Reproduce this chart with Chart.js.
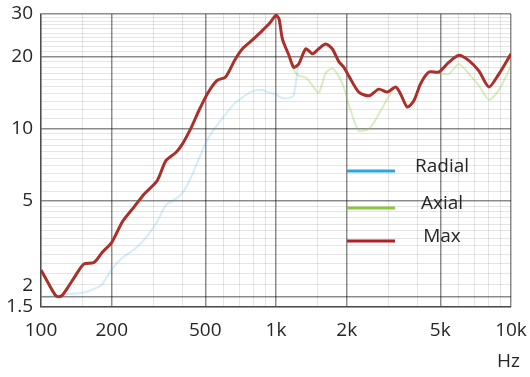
<!DOCTYPE html>
<html>
<head>
<meta charset="utf-8">
<script src="https://cdn.jsdelivr.net/npm/chart.js@4/dist/chart.umd.min.js"></script>
<style>
  html, body { margin: 0; padding: 0; background: #ffffff; }
  canvas { display: block; }
</style>
</head>
<body>
<canvas id="chart" width="530" height="377"></canvas>
<script>
// Frequency points (Hz)
const freqs = [100, 106, 116, 122, 130, 140, 152, 168, 182, 200, 222, 250, 275, 312, 340, 375, 400, 433, 470, 510,
  560, 610, 670, 720, 790, 875, 935, 1000, 1030, 1065, 1135, 1190, 1250, 1340, 1430, 1520, 1625, 1735, 1850, 1945,
  2045, 2250, 2490, 2740, 2975, 3230, 3390, 3620, 3865, 4125, 4475, 4935, 5445, 6000, 6620, 7300, 8055, 8885, 9800, 10000];

// Radial response
const radialLevel = [2.0, 2.0, 2.02, 2.03, 2.05, 2.06, 2.08, 2.15, 2.25, 2.6, 2.9, 3.15, 3.45, 4.1, 4.8, 5.1, 5.4, 6.2, 7.5, 9.0,
  10.3, 11.5, 12.8, 13.5, 14.3, 14.5, 14.1, 13.9, 13.6, 13.4, 13.4, 13.8, 18.6, 21.5, 20.5, 21.5, 22.5, 21.5, 19.0, 18.0,
  16.5, 14.2, 13.7, 14.6, 14.2, 14.9, 13.95, 12.3, 13.1, 15.4, 17.2, 17.2, 18.9, 20.2, 19.2, 17.4, 14.9, 16.9, 19.8, 20.5];

// Axial response
const axialLevel = [2.58, 2.33, 2.01, 2.01, 2.18, 2.44, 2.73, 2.77, 3.05, 3.36, 4.1, 4.75, 5.35, 6.07, 7.36, 7.96, 8.64, 9.97, 11.9, 13.95,
  15.85, 16.4, 19.4, 21.5, 23.3, 25.6, 27.3, 29.6, 28.6, 23.6, 20.2, 17.5, 16.6, 16.3, 15.1, 14.1, 17.0, 17.8, 16.5, 14.8,
  12.5, 9.8, 10.0, 11.5, 13.3, 14.9, 13.95, 12.3, 13.1, 15.4, 17.2, 17.0, 16.9, 18.6, 16.9, 15.1, 13.2, 14.5, 17.5, 18.5];

// Maximum of both
const maxLevel = [2.58, 2.33, 2.01, 2.01, 2.18, 2.44, 2.73, 2.77, 3.05, 3.36, 4.1, 4.75, 5.35, 6.07, 7.36, 7.96, 8.64, 9.97, 11.9, 13.95,
  15.85, 16.4, 19.4, 21.5, 23.3, 25.6, 27.3, 29.6, 28.6, 23.6, 20.2, 18.0, 18.6, 21.5, 20.5, 21.5, 22.5, 21.5, 19.0, 18.0,
  16.5, 14.2, 13.7, 14.6, 14.2, 14.9, 13.95, 12.3, 13.1, 15.4, 17.2, 17.2, 18.9, 20.2, 19.2, 17.4, 14.9, 16.9, 19.8, 20.5];

const seriesNames = ['Radial', 'Axial', 'Max'];

// Axis ticks
const xTickValues = [100, 200, 500, 1000, 2000, 5000, 10000];
const xTickLabels = ['100', '200', '500', '1k', '2k', '5k', '10k'];
const xMinorValues = [150, 300, 400, 600, 700, 800, 900, 1500, 3000, 4000, 6000, 7000, 8000, 9000];
const yTickValues = [2, 5, 10, 20, 30];
const yTickLabels = ['2', '5', '10', '20', '30'];
const yFloor = 1.81;
const yFloorLabel = '1.5';
const xUnit = 'Hz';

const yMinorValues = [];
for (let v = 2.25; v < 5; v += 0.25) yMinorValues.push(+v.toFixed(2));
for (let v = 5.5; v < 10; v += 0.5) yMinorValues.push(+v.toFixed(2));
for (let v = 11; v < 20; v += 1) yMinorValues.push(v);
for (let v = 21; v < 30; v += 1) yMinorValues.push(v);

const FONT = "'Open Sans', 'DejaVu Sans', sans-serif";
const MAJOR_GRID = 'rgba(0,0,0,0.45)';
const MINOR_GRID = 'rgba(0,0,0,0.1)';

const legendColors = ['#2ba6de', '#8cc63e', '#b11f24'];

const toPoints = arr => freqs.map((f, i) => ({ x: f, y: arr[i] }));

const isMajorX = v => xTickValues.includes(v);
const isMajorY = v => yTickValues.includes(v) || v === yFloor;

// Legend drawn inside the plot area, plus the unit label under the axis
const insideLegend = {
  id: 'insideLegend',
  afterDatasetsDraw(chart) {
    const { ctx, chartArea: a } = chart;
    ctx.save();
    const rows = [157, 194, 227];
    ctx.font = `19px ${FONT}`;
    ctx.textAlign = 'center';
    ctx.textBaseline = 'middle';
    seriesNames.forEach((name, i) => {
      const y = a.top + rows[i];
      ctx.strokeStyle = legendColors[i];
      ctx.lineWidth = 3;
      ctx.beginPath();
      ctx.moveTo(a.left + 306, y);
      ctx.lineTo(a.left + 354, y);
      ctx.stroke();
      ctx.fillStyle = '#262626';
      ctx.fillText(name, a.left + 401, y - 4);
    });
    ctx.textAlign = 'right';
    ctx.fillText(xUnit, a.right + 9, 362);
    ctx.restore();
  }
};

new Chart(document.getElementById('chart'), {
  type: 'line',
  data: {
    datasets: [
      {
        label: seriesNames[0],
        data: toPoints(radialLevel),
        borderColor: 'rgba(43,166,222,0.2)',
        borderWidth: 2,
        pointRadius: 0,
        tension: 0.25,
        order: 2
      },
      {
        label: seriesNames[1],
        data: toPoints(axialLevel),
        borderColor: 'rgba(140,198,62,0.32)',
        borderWidth: 2,
        pointRadius: 0,
        tension: 0.25,
        order: 1
      },
      {
        label: seriesNames[2],
        data: toPoints(maxLevel),
        borderColor: '#ac2f2a',
        borderWidth: 3,
        pointRadius: 0,
        tension: 0.25,
        order: 0
      }
    ]
  },
  options: {
    responsive: false,
    animation: false,
    devicePixelRatio: 1,
    layout: { padding: { top: 14, right: 19, left: 0, bottom: 0 } },
    plugins: {
      legend: { display: false },
      tooltip: { enabled: false }
    },
    scales: {
      x: {
        type: 'logarithmic',
        min: 100,
        max: 10000,
        afterBuildTicks: scale => {
          scale.ticks = [...xTickValues, ...xMinorValues].sort((a, b) => a - b).map(v => ({ value: v }));
        },
        afterFit: scale => {
          scale.height = 70;
          scale.paddingLeft = 0;
          scale.paddingRight = 0;
        },
        ticks: {
          autoSkip: false,
          maxRotation: 0,
          padding: 12,
          color: '#262626',
          font: { family: FONT, size: 19 },
          callback: v => {
            const i = xTickValues.indexOf(v);
            return i >= 0 ? xTickLabels[i] : '';
          }
        },
        grid: {
          drawTicks: false,
          color: c => (c.tick && isMajorX(c.tick.value) ? MAJOR_GRID : MINOR_GRID),
          lineWidth: c => (c.tick && isMajorX(c.tick.value) ? 1.5 : 1)
        },
        border: { color: MAJOR_GRID, width: 1.5 }
      },
      y: {
        type: 'logarithmic',
        min: yFloor,
        max: 30,
        afterBuildTicks: scale => {
          scale.ticks = [yFloor, ...yTickValues, ...yMinorValues].sort((a, b) => a - b).map(v => ({ value: v }));
        },
        afterFit: scale => {
          scale.width = 41;
          scale.paddingTop = 0;
          scale.paddingBottom = 0;
        },
        ticks: {
          autoSkip: false,
          padding: 8,
          color: '#262626',
          font: { family: FONT, size: 19 },
          callback: v => {
            if (v === yFloor) return yFloorLabel;
            const i = yTickValues.indexOf(v);
            if (i < 0) return '';
            // the "2" label sits raised above the floor label
            return v === 2 ? [yTickLabels[i], ''] : yTickLabels[i];
          }
        },
        grid: {
          drawTicks: false,
          color: c => (c.tick && isMajorY(c.tick.value) ? MAJOR_GRID : MINOR_GRID),
          lineWidth: c => (c.tick && isMajorY(c.tick.value) ? 1.5 : 1)
        },
        border: { color: MAJOR_GRID, width: 1.5 }
      }
    }
  },
  plugins: [insideLegend]
});
</script>
</body>
</html>
